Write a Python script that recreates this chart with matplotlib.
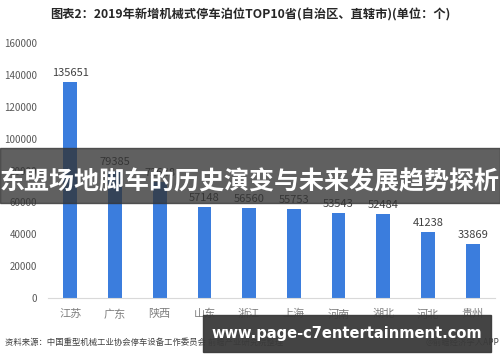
import matplotlib.pyplot as plt
import numpy as np

plt.rcParams['font.family'] = ['Noto Sans CJK SC', 'DejaVu Sans']

provinces = ['江苏', '广东', '陕西', '山东', '浙江', '上海', '河南', '湖北', '河北', '贵州']
values = [135651, 79385, 72648, 57148, 56560, 55753, 53543, 52484, 41238, 33869]
yticks = [0, 20000, 40000, 60000, 80000, 100000, 120000, 140000, 160000]

title = '图表2：2019年新增机械式停车泊位TOP10省(自治区、直辖市)(单位：个)'
source = '资料来源：中国重型机械工业协会停车设备工作委员会 前瞻产业研究院整理'
credit = '@前瞻经济学人APP'
banner = '东盟场地脚车的历史演变与未来发展趋势探析'
site = 'www.page-c7entertainment.com'

fig = plt.figure(figsize=(5, 3.62), dpi=100)
ax = fig.add_axes([0.096, 0.177, 0.894, 0.704])

x = np.arange(len(provinces))
ax.bar(x, values, width=0.31, color='#3b7ddd')
for xi, v in zip(x, values):
    ax.text(xi, v + 2500, str(v), ha='center', va='bottom', fontsize=8, color='#404040')

ax.set_xlim(-0.5, len(provinces) - 0.5)
ax.set_ylim(0, 160000)
ax.set_yticks(yticks)
ax.set_yticklabels([str(t) for t in yticks], fontsize=7, color='#595959')
ax.set_xticks(x)
ax.set_xticklabels(provinces, fontsize=8, color='#7f7f7f')
ax.tick_params(length=0, pad=8)
ax.tick_params(axis='y', pad=8)
for s in ['top', 'right', 'left']:
    ax.spines[s].set_visible(False)
ax.spines['bottom'].set_color('#d9d9d9')

fig.text(0.5, 0.958, title, ha='center', va='center', fontsize=8.8, fontweight='bold', color='#262626')
fig.text(0.01, 0.053, source, ha='left', va='center', fontsize=6, color='#404040')
fig.text(0.998, 0.053, credit, ha='right', va='center', fontsize=6, color='#404040')

# dark overlay band with title text
fig.patches.append(plt.Rectangle((0, 0.439), 1, 0.152, transform=fig.transFigure,
                                 color='#333333', alpha=0.78, zorder=5))
fig.text(0.5, 0.497, banner, ha='center', va='center', fontsize=18, fontweight='bold',
         color='white', zorder=6)

# bottom site box
fig.patches.append(plt.Rectangle((0.406, 0.028), 0.576, 0.102, transform=fig.transFigure,
                                 color='#3a3a3a', alpha=0.95, zorder=5))
fig.text(0.694, 0.079, site, ha='center', va='center', fontsize=10.5, fontweight='bold',
         color='white', family='DejaVu Sans', zorder=6)

fig.savefig('out.png', dpi=100)
